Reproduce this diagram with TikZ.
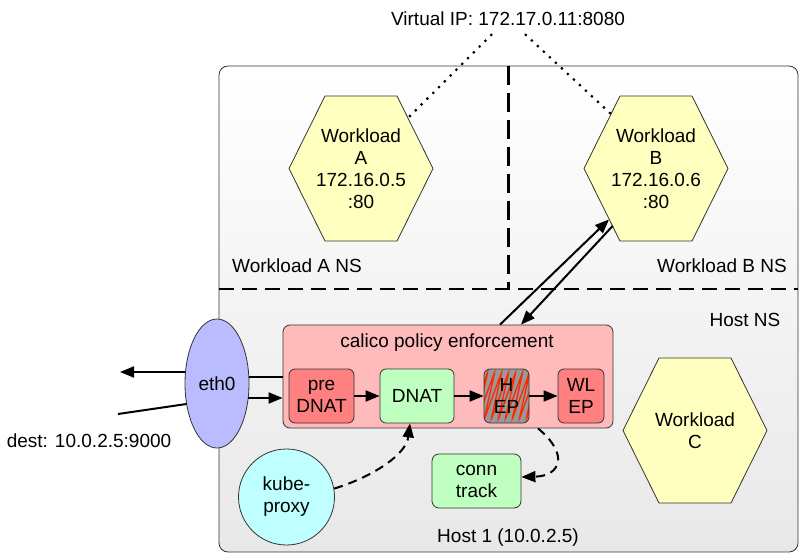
\documentclass[tikz,border=0pt]{standalone}
\usepackage{fontspec}
\setmainfont{Liberation Sans}
\usetikzlibrary{arrows.meta,calc,shapes.geometric}
\definecolor{hexfill}{RGB}{255,255,191}
\definecolor{ethfill}{RGB}{187,187,255}
\definecolor{calfill}{RGB}{255,187,187}
\definecolor{redbox}{RGB}{255,128,128}
\definecolor{greenbox}{RGB}{191,255,191}
\definecolor{cyanfill}{RGB}{191,255,255}
\definecolor{bord}{RGB}{51,51,51}
\definecolor{hepgray}{RGB}{153,153,153}
\definecolor{hatchred}{RGB}{255,40,0}
\definecolor{hostbot}{RGB}{232,232,232}
\begin{document}
\begin{tikzpicture}[x=1pt,y=-1pt,
 txt/.style={font=\fontsize{19}{22}\selectfont, align=center, inner sep=0pt},
 box/.style={txt, draw=bord, line width=0.8pt, rounded corners=7pt},
 hexdraw/.style={draw=bord, line width=0.8pt, fill=hexfill},
 arr/.style={line width=2pt, -{Triangle[length=14pt,width=11pt]}},
 plain/.style={line width=2pt},
 darr/.style={line width=2pt, dash pattern=on 9pt off 6pt, -{Triangle[length=14pt,width=11pt]}},
 hdivider/.style={line width=2.2pt, dash pattern=on 15pt off 8pt},
 vdivider/.style={line width=2.2pt, dash pattern=on 19pt off 8pt},
 dotl/.style={line width=2.2pt, dash pattern=on 2.2pt off 6pt},
]
\useasboundingbox (0,0) rectangle (800,554);

% host box
\node[draw=bord, line width=0.8pt, rounded corners=9pt, top color=white, bottom color=hostbot,
      minimum width=579pt, minimum height=486pt, inner sep=0pt] (host) at (508.5,309) {};
\draw[hdivider] (host.west |- 0,289) -- (host.east |- 0,289);
\draw[vdivider] (host.north) -- (host.north |- 0,289);

% hexagons
\coordinate (cA) at (361,168.5);
\coordinate (cB) at (656,168.5);
\coordinate (cC) at (695,430.5);
\foreach \c in {cA,cB,cC}{
  \draw[hexdraw, shift={(\c)}] (-72,0) -- (-36,-72.5) -- (36,-72.5) -- (72,0) -- (36,72.5) -- (-36,72.5) -- cycle;
}
\node[txt] (wA) at (cA) {Workload\\A\\172.16.0.5\\:80};
\node[txt] (wB) at (cB) {Workload\\B\\172.16.0.6\\:80};
\node[txt] (wC) at (cC) {Workload\\C};

% labels
\node[txt] (vip) at (508,19) {Virtual IP: 172.17.0.11:8080};
\node[txt] (nsA) at (297,266) {Workload A NS};
\node[txt] (nsB) at (722,266) {Workload B NS};
\node[txt] (nsH) at (745,320) {Host NS};
\node[txt] (h1) at (508,538) {Host 1 (10.0.2.5)};
\node[txt] (dest) at (89,441) {dest: 10.0.2.5:9000};

% dotted lines to VIP
\draw[dotl] ($(vip.south)+(-16,8)$) -- ($(cA)+(47,-50.5)$);
\draw[dotl] ($(vip.south)+(17,8)$) -- ($(cB)+(-45,-54.5)$);

% eth0
\node[txt, ellipse, draw=bord, line width=0.8pt, fill=ethfill, minimum width=64pt, minimum height=129pt] (eth0) at (217,383.5) {eth0};

% calico box
\node[box, fill=calfill, minimum width=330pt, minimum height=103pt] (cal) at (448,376.5) {};
\node[txt] (caltitle) at (447,343) {calico policy enforcement};
\node[box, fill=redbox, minimum width=65pt, minimum height=54pt, rounded corners=6pt] (pre) at (321.5,396) {pre\\DNAT};
\node[box, fill=greenbox, minimum width=74pt, minimum height=54pt, rounded corners=6pt] (dnat) at (417,396) {DNAT};
\node[box, fill=hepgray, minimum width=45pt, minimum height=54pt, rounded corners=6pt,
  path picture={\draw[draw=hatchred, line width=1.3pt, rounded corners=3pt]
    ([shift={(-14pt,3pt)}]path picture bounding box.south west)
    -- ++(18pt,49pt) -- ++(-11pt,-49pt) -- ++(18pt,49pt) -- ++(-11pt,-49pt)
    -- ++(18pt,49pt) -- ++(-11pt,-49pt) -- ++(18pt,49pt) -- ++(-11pt,-49pt)
    -- ++(18pt,49pt) -- ++(-11pt,-49pt) -- ++(18pt,49pt) -- ++(-11pt,-49pt)
    -- ++(18pt,49pt) -- ++(-11pt,-49pt) -- ++(18pt,49pt) -- ++(-11pt,-49pt)
    -- ++(18pt,49pt);}] (hep) at (506.5,396) {H\\EP};
\node[box, fill=redbox, minimum width=46pt, minimum height=54pt, rounded corners=6pt] (wlep) at (581,396) {WL\\EP};

\node[box, fill=greenbox, minimum width=89pt, minimum height=54pt, rounded corners=7pt] (conn) at (476.5,481) {conn\\track};
\node[txt, circle, draw=bord, line width=0.8pt, fill=cyanfill, minimum size=96pt] (kube) at (286.5,497) {kube-\\proxy};

% chain arrows
\draw[arr] (pre.east) -- (dnat.west);
\draw[arr] (dnat.east) -- (hep.west);
\draw[arr] (hep.east) -- (wlep.west);

% to / from workload B
\draw[arr] ([xshift=52pt]cal.north) -- ($(cB)+(-47,51)$);
\draw[arr] ($(cB)+(-43.4,57.5)$) -- ([xshift=73pt]cal.north);

% eth0 connections
\coordinate (outL) at (120,372);
\coordinate (inL) at (118,414);
\draw[plain] (cal.west) -- (cal.west -| eth0.east);
\draw[arr] (eth0.west |- outL) -- (outL);
\draw[plain] (inL) -- ($(eth0.center)+(-30.5,20.5)$);
\draw[arr] ($(eth0.center)+(31,14.5)$) -- (cal.west |- 0,398);

% dashed arrows
\draw[darr] (kube.10) .. controls (372,477) and (406,455) .. ([xshift=-7pt]dnat.south);
\draw[darr] ([xshift=90pt]cal.south) .. controls (570,455) and (560,476) .. ([yshift=4pt]conn.east);
\end{tikzpicture}
\end{document}
